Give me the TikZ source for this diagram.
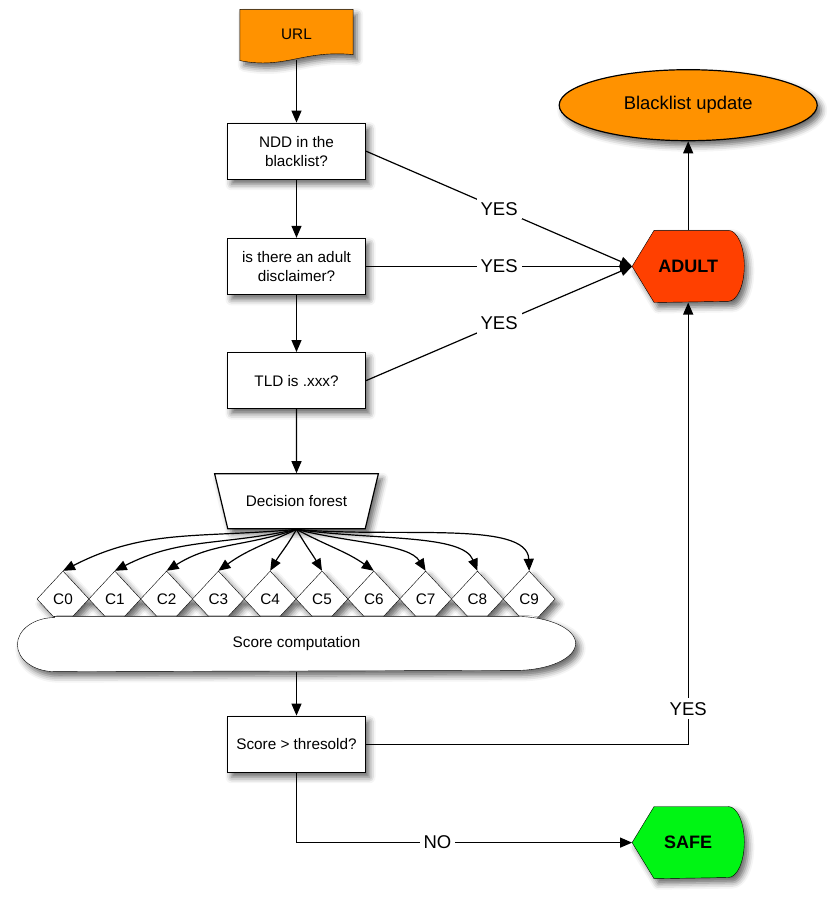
\documentclass[tikz,border=0pt]{standalone}
\usepackage{fontspec}
\setmainfont{Liberation Sans}
\usetikzlibrary{positioning,shapes.geometric,arrows.meta,shadows.blur,backgrounds}

\definecolor{urlorange}{RGB}{255,146,0}
\definecolor{adultred}{RGB}{255,64,0}
\definecolor{safegreen}{RGB}{0,245,20}

% outline of a "display" terminal drawn round a named node
\newcommand{\displayoutline}[2]{%
    \draw[shapeline, fill=#2] (#1.west) -- ([xshift=22pt]#1.north west)
        -- ([xshift=-16pt]#1.north east)
        arc[start angle=90, end angle=-90, x radius=16pt, y radius=35.5pt]
        -- ([xshift=22pt]#1.south west) -- cycle;}

\begin{document}
\begin{tikzpicture}[x=1pt, y=1pt, line width=1.2pt,
    >={Triangle[length=12pt,width=10pt]},
    softshadow/.style={
        blur shadow={shadow xshift=4pt, shadow yshift=-5pt,
                     shadow blur radius=6pt, shadow opacity=60}},
    shapeline/.style={draw=black, softshadow},
    txt/.style={font=\fontsize{15.3}{19}\selectfont},
    test/.style={
        rectangle,
        draw=black,
        fill=white,
        softshadow,
        minimum width=138pt, minimum height=56pt,
        inner sep=2pt,
        align=center,
        txt},
    classifier/.style={
        diamond,
        draw=black,
        fill=white,
        softshadow,
        minimum width=52pt, minimum height=56pt,
        inner sep=0pt,
        txt},
    terminal/.style={
        minimum width=111pt, minimum height=71pt,
        inner sep=0pt,
        font=\fontsize{18}{20}\selectfont\bfseries},
    lbl/.style={fill=white, inner sep=4pt, font=\fontsize{18.5}{20}\selectfont}]

    \useasboundingbox (0,0) rectangle (830,-898);

    \node (url) [minimum width=112pt, minimum height=49pt, txt] at (296.5,-34.5) {URL};
    \node (ndd) [test, below=63pt of url] {NDD in the\\blacklist?};
    \node (disclaimer) [test, below=58pt of ndd] {is there an adult\\disclaimer?};
    \node (tld) [test, below=57pt of disclaimer] {TLD is .xxx?};
    \node (forest) [trapezium, trapezium left angle=120, trapezium right angle=120,
        trapezium stretches=true, draw=black, fill=white, softshadow,
        minimum width=164pt, minimum height=55pt, txt, below=64pt of tld] {Decision forest};

    \node (score) [minimum width=557pt, minimum height=54pt, txt] at (296.5,-644) {Score computation};
    \node (check) [test, below=44pt of score] {Score > thresold?};

    \node (adult) [terminal, right=266pt of disclaimer] {ADULT};
    \node (bl_update) [ellipse, draw=black, fill=urlorange, softshadow,
        minimum width=258pt, minimum height=71pt, inner sep=0pt,
        font=\fontsize{18.4}{20}\selectfont, above=89pt of adult] {Blacklist update};
    \node (safe) [terminal, below=504pt of adult] {SAFE};

    \begin{scope}[on background layer]
        \draw[shapeline, fill=urlorange] (url.north west) -- (url.north east)
            -- ([yshift=5pt]url.south east)
            .. controls ([xshift=-50pt,yshift=10pt]url.south east)
            and ([xshift=45pt,yshift=-10pt]url.south west) .. ([yshift=-1pt]url.south west)
            -- cycle;
        \displayoutline{adult}{adultred}
        \displayoutline{safe}{safegreen}

        \foreach \i in {0,...,9}
            \node (c\i) [classifier] at (63+51.8*\i,-599) {C\i};

        \draw[shapeline, fill=white] ([xshift=37pt]score.north west) -- ([xshift=-60pt]score.north east)
            arc[start angle=90, end angle=-90, x radius=60pt, y radius=27pt]
            -- ([xshift=37pt]score.south west)
            arc[start angle=270, end angle=90, x radius=37pt, y radius=27pt] -- cycle;
    \end{scope}

    \draw[->] (url) -- (ndd);
    \draw[->] (ndd) -- (disclaimer);
    \draw[->] (disclaimer) -- (tld);
    \draw[->] (tld) -- (forest);

    \foreach \i/\o/\n/\l in {0/185/27/1, 1/192/27/1, 2/198/32/1, 3/205/36/1, 4/240/60/1,
                             5/-60/120/1, 6/-28/145/1, 7/-14/122/0.6, 8/-8/112/0.55, 9/-5/92/0.55}
        \draw[->] (forest.south) to[out=\o, in=\n, out looseness=1.1, in looseness=\l] (c\i.north);

    \draw[->] (score) -- (check);

    \draw[->] (ndd.east) -- node[lbl] {YES} (adult.west);
    \draw[->] (disclaimer.east) -- node[lbl] {YES} (adult.west);
    \draw[->] (tld.east) -- node[lbl] {YES} (adult.west);
    \draw[->] (adult.north) -- (bl_update.south);

    \draw[->] (check.east) -| node[lbl, pos=0.54] {YES} (adult.south);
    \draw[->] (check.south) |- node[lbl, pos=0.71] {NO} (safe.west);
\end{tikzpicture}
\end{document}
